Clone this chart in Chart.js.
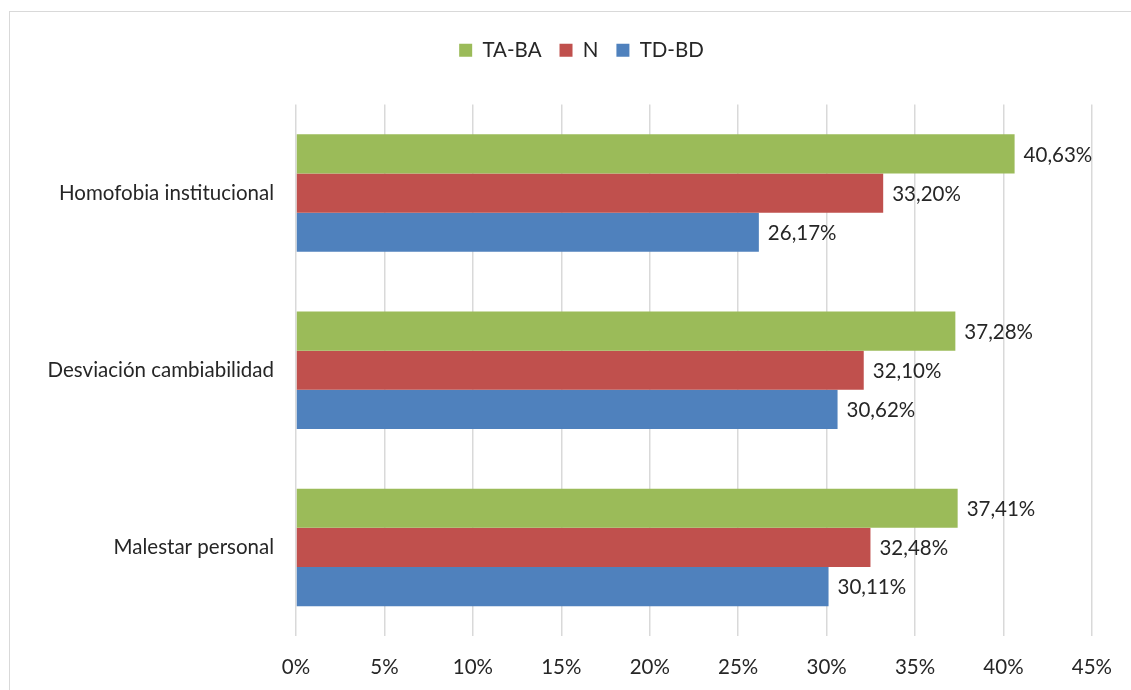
<!DOCTYPE html>
<html>
<head>
<meta charset="utf-8">
<script src="https://cdn.jsdelivr.net/npm/chart.js@4/dist/chart.umd.min.js"></script>
<style>
  html, body { margin: 0; padding: 0; background: #fff; overflow: hidden; }
  #frame { position: absolute; left: 9px; top: 11px; width: 1140px; height: 700px; border: 1.5px solid #d9d9d9; }
  #wrap { position: absolute; left: 0; top: 0; width: 1131px; height: 690px; }
</style>
</head>
<body>
<div id="frame"></div>
<div id="wrap"><canvas id="chart"></canvas></div>
<script>
// categories, top to bottom
const categories = ["Homofobia institucional", "Desviación cambiabilidad", "Malestar personal"];
const seriesNames = ["TA-BA", "N", "TD-BD"];
const taBa = [40.63, 37.28, 37.41];
const nVals = [33.20, 32.10, 32.48];
const tdBd = [26.17, 30.62, 30.11];
const xTicks = [0, 5, 10, 15, 20, 25, 30, 35, 40, 45];

const FONT = "Lato, sans-serif";
const FSIZE = 20.5;

function fmt(v) {
  return v.toFixed(2).replace(".", ",") + "%";
}

// value labels right of each bar
const barLabels = {
  id: "barLabels",
  afterDatasetsDraw(chart) {
    const ctx = chart.ctx;
    ctx.save();
    ctx.font = FSIZE + "px " + FONT;
    ctx.fillStyle = "#262626";
    ctx.textAlign = "left";
    ctx.textBaseline = "middle";
    chart.data.datasets.forEach((ds, i) => {
      chart.getDatasetMeta(i).data.forEach((bar, j) => {
        ctx.fillText(fmt(ds.data[j]), bar.x + 9, bar.y + 1);
      });
    });
    ctx.restore();
  }
};

// gap under the legend, and centre it a bit further right
const legendTweak = {
  id: "legendTweak",
  beforeInit(chart) {
    const fit = chart.legend.fit;
    chart.legend.fit = function () {
      fit.call(this);
      this.height += 34;
    };
  },
  afterLayout(chart) {
    chart.legend.left = 70;
  }
};

new Chart(document.getElementById("chart"), {
  type: "bar",
  data: {
    labels: categories,
    datasets: [
      { label: seriesNames[0], data: taBa, backgroundColor: "#9bbb59" },
      { label: seriesNames[1], data: nVals, backgroundColor: "#c0504d" },
      { label: seriesNames[2], data: tdBd, backgroundColor: "#4f81bd" }
    ]
  },
  options: {
    indexAxis: "y",
    responsive: true,
    maintainAspectRatio: false,
    animation: false,
    barPercentage: 1,
    categoryPercentage: 0.663,
    layout: { padding: { left: 0, right: 38, top: 22, bottom: 0 } },
    plugins: {
      tooltip: { enabled: false },
      legend: {
        position: "top",
        labels: {
          font: { family: FONT, size: FSIZE },
          color: "#262626",
          boxWidth: 13,
          boxHeight: 13,
          padding: 18
        }
      }
    },
    scales: {
      x: {
        min: 0,
        max: 45,
        afterBuildTicks(scale) { scale.ticks = xTicks.map(v => ({ value: v })); },
        afterFit(scale) { scale.height = 54; },
        ticks: {
          callback: v => v + "%",
          font: { family: FONT, size: FSIZE },
          color: "#262626",
          padding: 19,
          maxRotation: 0
        },
        grid: { color: "#d9d9d9", lineWidth: 1.5, drawTicks: false },
        border: { display: false }
      },
      y: {
        afterFit(scale) { scale.width = 296; },
        ticks: {
          font: { family: FONT, size: FSIZE },
          color: "#262626",
          padding: 22
        },
        grid: { display: false, drawTicks: false },
        border: { display: false }
      }
    }
  },
  plugins: [barLabels, legendTweak]
});
</script>
</body>
</html>
